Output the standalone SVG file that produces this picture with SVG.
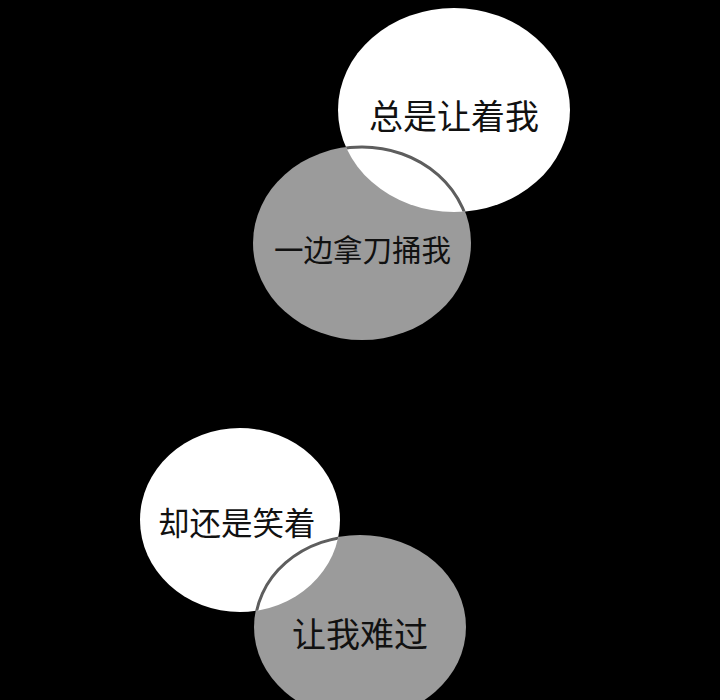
<svg xmlns="http://www.w3.org/2000/svg" width="720" height="700" viewBox="0 0 720 700">
<style>
.w{fill:#ffffff}
.g{fill:#9b9b9b}
.edge{fill:none;stroke:#5e5e5e;stroke-width:3}
.t{font-family:"Noto Sans CJK SC","Noto Sans",sans-serif;fill:#111111}
</style>
<defs>
<clipPath id="c1"><ellipse cx="454" cy="110" rx="116" ry="102"/></clipPath>
<clipPath id="c2"><ellipse cx="240" cy="520" rx="100" ry="92"/></clipPath>
</defs>
<rect width="720" height="700" fill="#000000"/>
<g id="bubble-top-gray">
<ellipse class="g" cx="362" cy="243" rx="109" ry="97"/>
</g>
<g id="bubble-top-white">
<ellipse class="w" cx="454" cy="110" rx="116" ry="102"/>
<ellipse class="edge" cx="362" cy="243" rx="108" ry="96" clip-path="url(#c1)"/>
<text class="t" x="369" y="129" font-size="34">总是让着我</text>
</g>
<g id="label-top-gray">
<text class="t" x="274" y="261" font-size="29.5">一边拿刀捅我</text>
</g>
<g id="bubble-bottom-gray">
<ellipse class="g" cx="360" cy="627" rx="106" ry="92"/>
</g>
<g id="bubble-bottom-white">
<ellipse class="w" cx="240" cy="520" rx="100" ry="92"/>
<ellipse class="edge" cx="360" cy="627" rx="105" ry="91" clip-path="url(#c2)"/>
<text class="t" x="158" y="535" font-size="31.5">却还是笑着</text>
</g>
<g id="label-bottom-gray">
<text class="t" x="292" y="647" font-size="34">让我难过</text>
</g>
</svg>
